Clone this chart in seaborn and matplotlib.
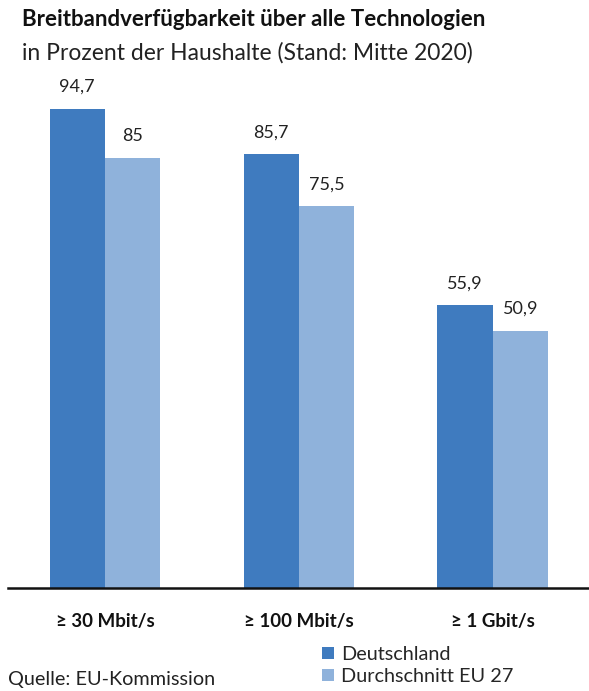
import matplotlib
matplotlib.use("Agg")
import matplotlib.pyplot as plt
import seaborn as sns
import pandas as pd
from matplotlib.patches import Patch

categories = ["≥ 30 Mbit/s", "≥ 100 Mbit/s", "≥ 1 Gbit/s"]
series_names = ["Deutschland", "Durchschnitt EU 27"]
deutschland = [94.7, 85.7, 55.9]
eu27 = [85.0, 75.5, 50.9]
colors = ["#3f7bbf", "#8fb2db"]

df = pd.DataFrame({
    "cat": categories * 2,
    "series": [series_names[0]] * 3 + [series_names[1]] * 3,
    "value": deutschland + eu27,
})

sns.set_theme(style="white")
plt.rcParams["font.family"] = ["Lato", "DejaVu Sans"]

fig = plt.figure(figsize=(5.89, 6.91), dpi=100)
ax = fig.add_axes([8/589, 103/691, 581/589, 518/691])

sns.barplot(data=df, x="cat", y="value", hue="series", order=categories,
            hue_order=series_names, palette=colors, width=0.572,
            saturation=1, ax=ax, legend=False, linewidth=0)

for cont in ax.containers:
    labels = [f"{v:g}".replace(".", ",") for v in cont.datavalues]
    ax.bar_label(cont, labels=labels, padding=10, fontsize=13, color="#222222")

ax.set_xlim(-0.5, 2.495)
ax.set_ylim(0, 102.4)
ax.set_xlabel("")
ax.set_ylabel("")
ax.set_yticks([])
for s in ["top", "right", "left"]:
    ax.spines[s].set_visible(False)
ax.spines["bottom"].set_color("#111111")
ax.spines["bottom"].set_linewidth(1.8)
ax.tick_params(axis="x", length=0, pad=18)
for t in ax.get_xticklabels():
    t.set_fontweight("bold")
    t.set_fontsize(13.5)
    t.set_color("#111111")

fig.text(22/589, 1 - 20/691, "Breitbandverfügbarkeit über alle Technologien",
         fontsize=16, fontweight="bold", va="center", ha="left", color="#111111")
fig.text(22/589, 1 - 53/691, "in Prozent der Haushalte (Stand: Mitte 2020)",
         fontsize=16.5, va="center", ha="left", color="#222222")
fig.text(8/589, 1 - 679/691, "Quelle: EU-Kommission",
         fontsize=14.3, va="center", ha="left", color="#222222")

handles = [Patch(facecolor=c, edgecolor="none") for c in colors]
fig.legend(handles, series_names, loc="upper left",
           bbox_to_anchor=(322/589, 1 - 646/691), frameon=False,
           fontsize=14.3, handlelength=0.6, handleheight=0.6,
           handletextpad=0.35, labelspacing=0.25, borderpad=0, borderaxespad=0)

fig.savefig("out.png", dpi=100, facecolor="white")
